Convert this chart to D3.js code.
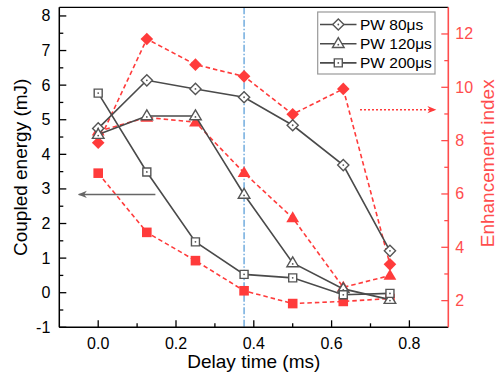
<!DOCTYPE html>
<html><head><meta charset="utf-8">
<script src="https://cdn.jsdelivr.net/npm/d3@7"></script>
<style>body{margin:0;background:#fff}svg{display:block;font-family:"Liberation Sans",Arial,sans-serif}</style>
</head><body><svg id="c" width="500" height="374"></svg>
<script>
const delay = [0, 0.125, 0.25, 0.375, 0.5, 0.63, 0.75];
const energy80 = [4.75, 6.14, 5.89, 5.65, 4.84, 3.69, 1.21];
const energy120 = [4.57, 5.11, 5.11, 2.84, 0.86, 0.11, -0.2];
const energy200 = [5.77, 3.49, 1.47, 0.53, 0.43, -0.06, -0.02];
const index80 = [7.92, 11.81, 10.85, 10.41, 8.99, 9.94, 3.36];
const index120 = [8.35, 8.87, 8.69, 6.79, 5.1, 2.5, 2.94];
const index200 = [6.78, 4.56, 3.5, 2.37, 1.89, 1.97, 2.08];
const seriesNames = ["PW 80μs", "PW 120μs", "PW 200μs"];
const xTicks = [0, 0.2, 0.4, 0.6, 0.8];
const xMinor = [0.1, 0.3, 0.5, 0.7];
const yTicks = [-1, 0, 1, 2, 3, 4, 5, 6, 7, 8];
const yMinor = [-0.5, 0.5, 1.5, 2.5, 3.5, 4.5, 5.5, 6.5, 7.5];
const y2Ticks = [2, 4, 6, 8, 10, 12];
const y2Minor = [3, 5, 7, 9, 11];
const markerLine = 0.375;

const svg = d3.select("#c");
const L = 59.3, R = 448.3, T = 7.3, B = 327.3;
const x = d3.scaleLinear().domain([-0.1, 0.9]).range([L, R]);
const y = d3.scaleLinear().domain([-1, 8.25]).range([B, T]);
const y2 = d3.scaleLinear().domain([1, 13]).range([B, T]);
const gray = "#4a4a4a", red = "#ff3b3b", redAx = "#ff4d4d";

// vertical dash-dot line
svg.append("line").attr("x1", x(markerLine)).attr("x2", x(markerLine)).attr("y1", T).attr("y2", B)
  .attr("stroke", "#4f97d6").attr("stroke-width", 1.2).attr("stroke-dasharray", "7,2,1.5,2");

const shapes = ["diamond", "triangle", "square"];
function markerPath(s, r) {
  if (s === "diamond") return `M0,${-r}L${r},0L0,${r}L${-r},0Z`;
  if (s === "square") return `M${-r},${-r}H${r}V${r}H${-r}Z`;
  const h = r * 1.0;
  return `M0,${-h - 1}L${h + 0.8},${h * 0.75}L${-h - 0.8},${h * 0.75}Z`;
}
const line = (ys, sc) => d3.line().x((d, i) => x(delay[i])).y(d => sc(d))(ys);

// red series
const reds = [index80, index120, index200];
reds.forEach((vals, k) => {
  svg.append("path").attr("d", line(vals, y2)).attr("fill", "none").attr("stroke", red)
    .attr("stroke-width", 1.6).attr("stroke-dasharray", "4.5,3");
});
reds.forEach((vals, k) => {
  const r = shapes[k] === "diamond" ? 6.3 : shapes[k] === "square" ? 4.8 : 5.6;
  svg.append("g").selectAll("path").data(vals).join("path")
    .attr("transform", (d, i) => `translate(${x(delay[i])},${y2(d)})`)
    .attr("d", markerPath(shapes[k], r)).attr("fill", red);
});

// gray series
const grays = [energy80, energy120, energy200];
grays.forEach((vals, k) => {
  svg.append("path").attr("d", line(vals, y)).attr("fill", "none").attr("stroke", gray).attr("stroke-width", 1.6);
});
function grayMarker(g, s) {
  const r = s === "diamond" ? 5.6 : s === "square" ? 4 : 5;
  g.append("path").attr("d", markerPath(s, r)).attr("fill", "#fff").attr("stroke", "#555").attr("stroke-width", 1.4);
  g.append("circle").attr("r", 0.9).attr("cy", s === "triangle" ? 1 : 0).attr("fill", "#555");
}
grays.forEach((vals, k) => {
  vals.forEach((d, i) => {
    const g = svg.append("g").attr("transform", `translate(${x(delay[i])},${y(d)})`);
    grayMarker(g, shapes[k]);
  });
});

// arrows
const defs = svg.append("defs");
defs.append("marker").attr("id", "ag").attr("viewBox", "0 0 10 10").attr("refX", 9).attr("refY", 5)
  .attr("markerWidth", 13).attr("markerHeight", 9).attr("markerUnits", "userSpaceOnUse").attr("orient", "auto")
  .append("path").attr("d", "M0,1L10,5L0,9L3,5Z").attr("fill", "#666");
defs.append("marker").attr("id", "ar").attr("viewBox", "0 0 10 10").attr("refX", 9).attr("refY", 5)
  .attr("markerWidth", 13).attr("markerHeight", 9).attr("markerUnits", "userSpaceOnUse").attr("orient", "auto")
  .append("path").attr("d", "M0,1L10,5L0,9L3,5Z").attr("fill", red);
svg.append("line").attr("x1", x(0.147)).attr("x2", x(-0.05)).attr("y1", y(2.84)).attr("y2", y(2.84))
  .attr("stroke", "#666").attr("stroke-width", 1.6).attr("marker-end", "url(#ag)");
svg.append("line").attr("x1", x(0.673)).attr("x2", x(0.867)).attr("y1", y2(9.16)).attr("y2", y2(9.16))
  .attr("stroke", red).attr("stroke-width", 1.6).attr("stroke-dasharray", "2,2").attr("marker-end", "url(#ar)");

// axes
const fs = "16px";
const ax = svg.append("g");
// left
ax.append("line").attr("x1", L).attr("x2", L).attr("y1", T).attr("y2", B).attr("stroke", "#000").attr("stroke-width", 1.5);
ax.selectAll(".yt").data(yTicks).join("line").attr("x1", L).attr("x2", L + 7).attr("y1", d => y(d)).attr("y2", d => y(d)).attr("stroke", "#000").attr("stroke-width", 1.3);
ax.selectAll(".ym").data(yMinor).join("line").attr("x1", L).attr("x2", L + 4).attr("y1", d => y(d)).attr("y2", d => y(d)).attr("stroke", "#000").attr("stroke-width", 1.3);
ax.selectAll(".yl").data(yTicks).join("text").attr("x", L - 9).attr("y", d => y(d) + 5.5).attr("text-anchor", "end").attr("font-size", fs).text(d => d);
// bottom
ax.append("line").attr("x1", L).attr("x2", R).attr("y1", B).attr("y2", B).attr("stroke", "#000").attr("stroke-width", 1.5);
ax.append("line").attr("x1", L).attr("x2", R).attr("y1", T).attr("y2", T).attr("stroke", "#000").attr("stroke-width", 1.3);
ax.selectAll(".xt").data(xTicks).join("line").attr("x1", d => x(d)).attr("x2", d => x(d)).attr("y1", B).attr("y2", B - 7).attr("stroke", "#000").attr("stroke-width", 1.3);
ax.selectAll(".xm").data(xMinor).join("line").attr("x1", d => x(d)).attr("x2", d => x(d)).attr("y1", B).attr("y2", B - 4).attr("stroke", "#000").attr("stroke-width", 1.3);
ax.selectAll(".xl").data(xTicks).join("text").attr("x", d => x(d)).attr("y", 348.5).attr("text-anchor", "middle").attr("font-size", fs).text(d => d3.format(".1f")(d));
// right
ax.append("line").attr("x1", R).attr("x2", R).attr("y1", T).attr("y2", B).attr("stroke", redAx).attr("stroke-width", 1.6);
ax.selectAll(".rt").data(y2Ticks).join("line").attr("x1", R).attr("x2", R - 7).attr("y1", d => y2(d)).attr("y2", d => y2(d)).attr("stroke", redAx).attr("stroke-width", 1.3);
ax.selectAll(".rm").data(y2Minor).join("line").attr("x1", R).attr("x2", R - 4).attr("y1", d => y2(d)).attr("y2", d => y2(d)).attr("stroke", redAx).attr("stroke-width", 1.3);
ax.selectAll(".rl").data(y2Ticks).join("text").attr("x", R + 7).attr("y", d => y2(d) + 5.5).attr("text-anchor", "start").attr("font-size", fs).attr("fill", redAx).text(d => d);

// titles
svg.append("text").attr("transform", `translate(27,${(T + B) / 2}) rotate(-90)`).attr("text-anchor", "middle").attr("font-size", "19px").text("Coupled energy (mJ)");
svg.append("text").attr("transform", `translate(494,${(T + B) / 2 - 4}) rotate(-90)`).attr("text-anchor", "middle").attr("font-size", "19px").attr("fill", redAx).text("Enhancement index");
svg.append("text").attr("x", (L + R) / 2).attr("y", 368).attr("text-anchor", "middle").attr("font-size", "19px").text("Delay time (ms)");

// legend
const lg = svg.append("g");
lg.append("rect").attr("x", 317.7).attr("y", 12).attr("width", 117.3).attr("height", 62).attr("fill", "#fff").attr("stroke", "#999").attr("stroke-width", 1.2);
seriesNames.forEach((n, k) => {
  const yy = 24.5 + k * 19.2;
  lg.append("line").attr("x1", 320).attr("x2", 356.5).attr("y1", yy).attr("y2", yy).attr("stroke", gray).attr("stroke-width", 1.6);
  const g = lg.append("g").attr("transform", `translate(338.3,${yy})`);
  grayMarker(g, shapes[k]);
  lg.append("text").attr("x", 360).attr("y", yy + 5.5).attr("font-size", "15.5px").text(n);
});
</script></body></html>
